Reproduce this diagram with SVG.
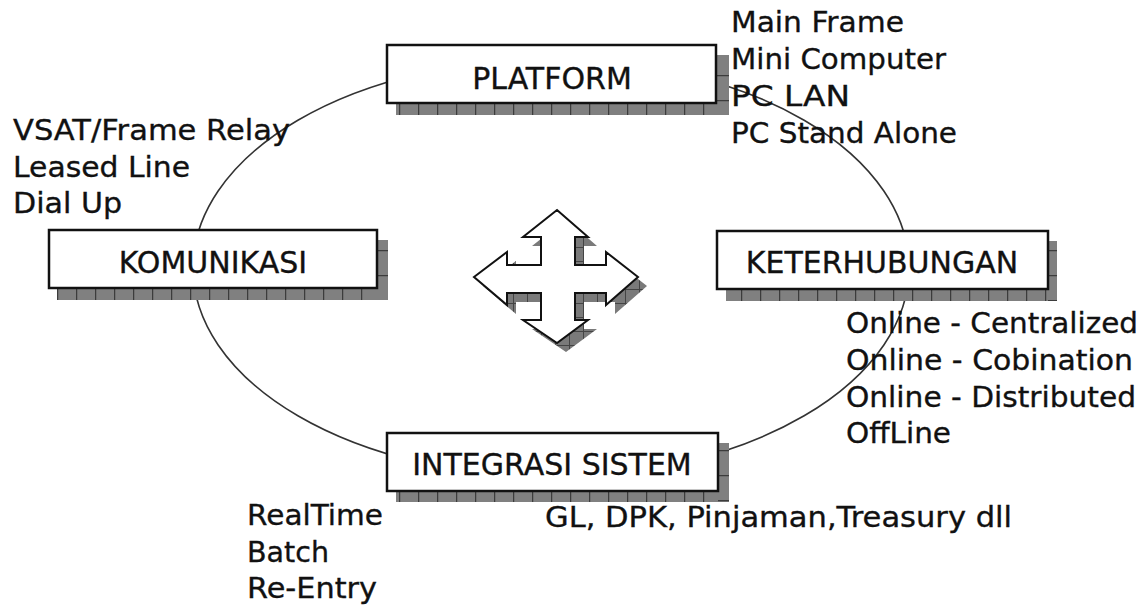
<svg xmlns="http://www.w3.org/2000/svg" width="1145" height="608" viewBox="0 0 1145 608">
<style>
.t{font-family:"DejaVu Sans","Liberation Sans",sans-serif;font-size:29px;fill:#111;stroke:#111;stroke-width:0.35}
.lbl{font-family:"DejaVu Sans","Liberation Sans",sans-serif;font-size:30px;fill:#111;stroke:#111;stroke-width:0.35;text-anchor:middle}
.box{fill:#fff;stroke:#111;stroke-width:2.5}
.shb{fill:url(#vlines)}
.shr{fill:url(#hlines)}
</style>
<defs>
<pattern id="vlines" patternUnits="userSpaceOnUse" width="19" height="20">
<rect width="19" height="20" fill="#808080"/>
<line x1="0.5" y1="0" x2="0.5" y2="20" stroke="#3c3c3c" stroke-width="1.5"/>
</pattern>
<pattern id="hlines" patternUnits="userSpaceOnUse" width="20" height="25">
<rect width="20" height="25" fill="#808080"/>
<line x1="0" y1="0.5" x2="20" y2="0.5" stroke="#3c3c3c" stroke-width="1.5"/>
</pattern>
<pattern id="xh" patternUnits="userSpaceOnUse" width="14" height="14">
<rect width="14" height="14" fill="#7a7a7a"/>
<line x1="0" y1="0.5" x2="14" y2="0.5" stroke="#444" stroke-width="1"/>
<line x1="0.5" y1="0" x2="0.5" y2="14" stroke="#444" stroke-width="1"/>
</pattern>
</defs>
<rect width="1145" height="608" fill="#fff"/>

<g id="connectors">
<ellipse cx="551" cy="268" rx="358" ry="209" fill="none" stroke="#333" stroke-width="1.6"/>
</g>

<g id="platform">
<rect class="shb" x="396" y="103" width="333" height="12"/>
<rect class="shr" x="716" y="55" width="13" height="60"/>
<rect class="box" x="387" y="45" width="329" height="58"/>
<text class="lbl" x="552" y="89">PLATFORM</text>
</g>

<g id="komunikasi">
<rect class="shb" x="57" y="288" width="331" height="12"/>
<rect class="shr" x="377" y="240" width="11" height="60"/>
<rect class="box" x="49" y="230" width="328" height="58"/>
<text class="lbl" x="213" y="273">KOMUNIKASI</text>
</g>

<g id="keterhubungan">
<rect class="shb" x="726" y="289" width="331" height="12"/>
<rect class="shr" x="1048" y="241" width="9" height="60"/>
<rect class="box" x="717" y="231" width="331" height="58"/>
<text class="lbl" x="882" y="273">KETERHUBUNGAN</text>
</g>

<g id="integrasi">
<rect class="shb" x="396" y="491" width="333" height="11"/>
<rect class="shr" x="718" y="443" width="11" height="59"/>
<rect class="box" x="387" y="433" width="331" height="58"/>
<text class="lbl" x="552" y="475">INTEGRASI SISTEM</text>
</g>

<g id="arrow">
<polygon fill="url(#xh)" transform="translate(9,9)" points="557,210 588,237 575,237 575,265 606,265 606,252 638,277 606,305 606,293 575,293 575,320 588,320 557,343 523,320 541,320 541,293 507,293 507,305 474,277 507,252 507,265 541,265 541,237 523,237"/>
<polygon fill="#fff" stroke="#111" stroke-width="2" stroke-linejoin="miter" points="557,210 588,237 575,237 575,265 606,265 606,252 638,277 606,305 606,293 575,293 575,320 588,320 557,343 523,320 541,320 541,293 507,293 507,305 474,277 507,252 507,265 541,265 541,237 523,237"/>
</g>

<g id="platform-items">
<text class="t" x="731" y="32" textLength="173" lengthAdjust="spacingAndGlyphs">Main Frame</text>
<text class="t" x="731" y="69" textLength="215" lengthAdjust="spacingAndGlyphs">Mini Computer</text>
<text class="t" x="731" y="106" textLength="119" lengthAdjust="spacingAndGlyphs">PC LAN</text>
<text class="t" x="731" y="143" textLength="226" lengthAdjust="spacingAndGlyphs">PC Stand Alone</text>
</g>

<g id="komunikasi-items">
<text class="t" x="13" y="140" textLength="277" lengthAdjust="spacingAndGlyphs">VSAT/Frame Relay</text>
<text class="t" x="13" y="177" textLength="177" lengthAdjust="spacingAndGlyphs">Leased Line</text>
<text class="t" x="13" y="213" textLength="109" lengthAdjust="spacingAndGlyphs">Dial Up</text>
</g>

<g id="keterhubungan-items">
<text class="t" x="846" y="333" textLength="292" lengthAdjust="spacingAndGlyphs">Online - Centralized</text>
<text class="t" x="846" y="370" textLength="287" lengthAdjust="spacingAndGlyphs">Online - Cobination</text>
<text class="t" x="846" y="407" textLength="290" lengthAdjust="spacingAndGlyphs">Online - Distributed</text>
<text class="t" x="846" y="443" textLength="105" lengthAdjust="spacingAndGlyphs">OffLine</text>
</g>

<g id="integrasi-items">
<text class="t" x="247" y="525" textLength="136" lengthAdjust="spacingAndGlyphs">RealTime</text>
<text class="t" x="247" y="562" textLength="82" lengthAdjust="spacingAndGlyphs">Batch</text>
<text class="t" x="247" y="598" textLength="130" lengthAdjust="spacingAndGlyphs">Re-Entry</text>
<text class="t" x="545" y="527" textLength="467" lengthAdjust="spacingAndGlyphs">GL, DPK, Pinjaman,Treasury dll</text>
</g>
</svg>
